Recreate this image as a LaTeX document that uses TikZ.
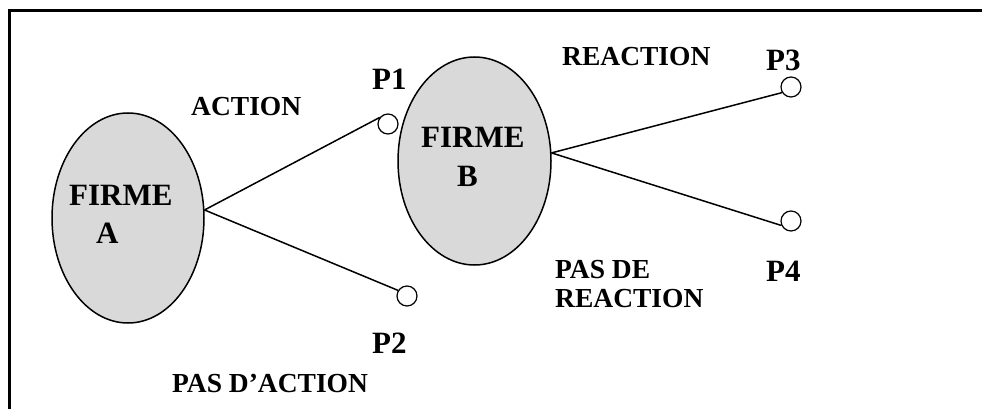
\documentclass[tikz,border=0pt]{standalone}
\usepackage{fontspec}
\setmainfont{Liberation Serif}
\usetikzlibrary{shapes.geometric}
\definecolor{firmfill}{RGB}{217,217,217}
\tikzset{
  firm/.style={ellipse, draw=black, line width=1.5pt, fill=firmfill, inner sep=0pt},
  outcome/.style={circle, draw=black, line width=1.2pt, fill=white, minimum size=20pt, inner sep=0pt},
  branch/.style={line width=1.5pt},
  bigtxt/.style={anchor=base west, inner sep=0pt, font=\fontsize{31}{34}\selectfont\bfseries},
  smalltxt/.style={anchor=base west, inner sep=0pt, font=\fontsize{27.5}{30}\selectfont\bfseries},
  frameline/.style={line width=2.2pt}
}
\begin{document}
\begin{tikzpicture}[x=1pt,y=-1pt]
\useasboundingbox (0,0) rectangle (982,409);

% outer frame (top and left edges)
\coordinate (f1) at (9.5,409);
\coordinate (f2) at (9.5,10.5);
\coordinate (f3) at (982,10.5);
\draw[frameline] (f1) -- (f2) -- (f3);

% the two firms
\node[firm, minimum width=152pt, minimum height=210pt] (fa) at (128,218) {};
\node[firm, minimum width=153pt, minimum height=208pt] (fb) at (474.5,161) {};

\node[bigtxt] (fatxt) at (69,205) {FIRME};
\node[bigtxt] (fatxtb) at (96,243) {A};
\node[bigtxt] (fbtxt) at (421,147) {FIRME};
\node[bigtxt] (fbtxtb) at (457,186) {B};

% outcomes
\node[outcome] (p1) at (388,124) {};
\node[outcome] (p2) at (407,296) {};
\node[outcome] (p3) at (791,87) {};
\node[outcome] (p4) at (791,221) {};

\node[bigtxt] (p1txt) at (372,90) {P1};
\node[bigtxt] (p2txt) at (372,353) {P2};
\node[bigtxt] (p3txt) at (766,71) {P3};
\node[bigtxt] (p4txt) at (766,281) {P4};

% branches
\draw[branch] (fa.6) -- (p1.142);
\draw[branch] (fa.6) -- (p2.148);
\draw[branch] (fb.6) -- (p3.212);
\draw[branch] (fb.6) -- (p4.205);

% branch labels
\node[smalltxt] (act) at (191,116) {ACTION};
\node[smalltxt] (noact) at (172,392) {PAS D’ACTION};
\node[smalltxt] (react) at (562,66) {REACTION};
\node[smalltxt] (noreact1) at (555,278) {PAS DE};
\node[smalltxt] (noreact2) at (555,307) {REACTION};
\end{tikzpicture}
\end{document}
